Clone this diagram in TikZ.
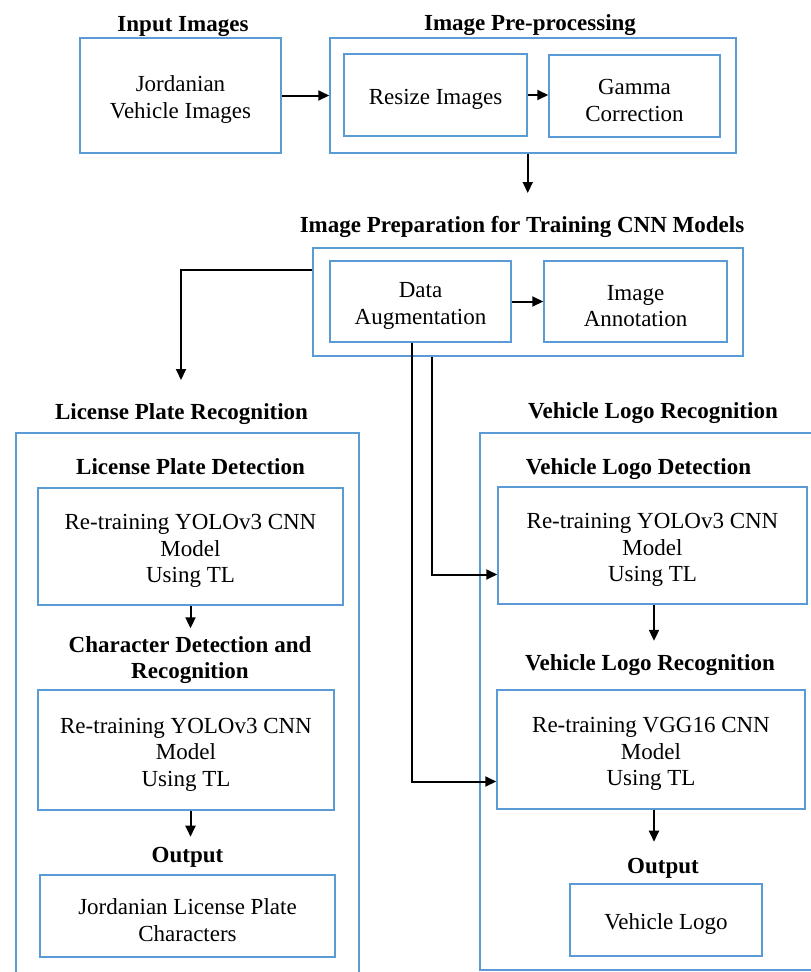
\documentclass[tikz,border=0pt]{standalone}
\usepackage{fontspec}
\setmainfont{Liberation Serif}
\usetikzlibrary{arrows.meta,positioning}
\definecolor{boxblue}{RGB}{91,155,213}
\newcommand{\tstrut}{\rule{0pt}{24pt}}

\begin{document}
\begin{tikzpicture} [
    x=1pt, y=-1pt,
    box/.style={rectangle, draw=boxblue, line width=1.5pt, inner sep=0pt, align=center,
                font=\fontsize{23}{26.5}\selectfont},
    title/.style={inner sep=0pt, align=center, yshift=-5pt,
                font=\fontsize{23}{26.5}\selectfont\bfseries},
    flow/.style={->, line width=2pt, black},
    >={Triangle[length=11pt,width=10pt]}
    ]
    \useasboundingbox (0,0) rectangle (811,972);
    \clip (0,0) rectangle (811,972);
    %Nodes
    \node[box, minimum width=201pt, minimum height=115pt] (input)  at (180.5,95.5) {\tstrut Jordanian\\Vehicle Images};
    \node[box, minimum width=406pt, minimum height=115pt] (pre)    at (533,95.5)   {};
    \node[box, minimum width=183pt, minimum height=82pt]  (resize) at (435.5,95)   {\tstrut Resize Images};
    \node[box, minimum width=171pt, minimum height=82pt]  (gamma)  at (634.5,96)   {\tstrut Gamma\\Correction};
    \node[box, minimum width=430pt, minimum height=108pt] (prep)   at (528,302)    {};
    \node[box, minimum width=181pt, minimum height=81pt]  (aug)    at (420.5,301.5) {\tstrut Data\\Augmentation};
    \node[box, minimum width=183pt, minimum height=81pt]  (annot)  at (635.5,301.5) {\tstrut Image\\Annotation};
    \node[box, minimum width=343pt, minimum height=557pt] (lpr)    at (187.5,711.5) {};
    \node[box, minimum width=305pt, minimum height=117pt] (lpd)    at (190.5,546.5) {\tstrut Re-training YOLOv3 CNN\\Model\\Using TL};
    \node[box, minimum width=296pt, minimum height=120pt] (cdr)    at (186,750)    {\tstrut Re-training YOLOv3 CNN\\Model\\Using TL};
    \node[box, minimum width=295pt, minimum height=82pt]  (lpout)  at (187.5,916)  {\tstrut Jordanian License Plate\\Characters};
    \node[box, minimum width=350pt, minimum height=537pt] (vlr)    at (655,701.5)  {};
    \node[box, minimum width=309pt, minimum height=117pt] (vld)    at (652.5,545.5) {\tstrut Re-training YOLOv3 CNN\\Model\\Using TL};
    \node[box, minimum width=308pt, minimum height=119pt] (vgg)    at (651,749.5)  {\tstrut Re-training VGG16 CNN\\Model\\Using TL};
    \node[box, minimum width=192pt, minimum height=72pt]  (logo)   at (666,920)    {\tstrut Vehicle Logo};
    %Titles
    \node[title] (tin)   [above=5pt of input, xshift=2.5pt] {Input Images};
    \node[title] (tpre)  [above=6pt of pre, xshift=-3pt]    {Image Pre-processing};
    \node[title] (tprep) [above=14pt of prep, xshift=-6pt]  {Image Preparation for Training CNN Models};
    \node[title] (tlpr)  [above=12pt of lpr, xshift=-6pt]   {License Plate Recognition};
    \node[title] (tlpd)  [above=17pt of lpd]                {License Plate Detection};
    \node[title] (tcdr)  [above=10pt of cdr, xshift=4pt]    {Character Detection and\\Recognition};
    \node[title] (tlpo)  [above=12pt of lpout]              {Output};
    \node[title] (tvlr)  [above=13pt of vlr, xshift=-2pt]   {Vehicle Logo Recognition};
    \node[title] (tvld)  [above=11pt of vld, xshift=-14pt]  {Vehicle Logo Detection};
    \node[title] (tvlr2) [above=18pt of vgg, xshift=-1pt]   {Vehicle Logo Recognition};
    \node[title] (tvlo)  [above=10pt of logo, xshift=-3pt]  {Output};
    \path (resize.east) ++(0,98) coordinate (c1);
    \coordinate (c2) at (181,380);
    %Lines
    \draw[flow] (input.east) -- (pre.west);
    \draw[flow] (resize.east) -- (resize.east -| gamma.west);
    \draw[flow] (resize.east |- pre.south) -- (c1);
    \draw[flow] (aug.east) -- (annot.west);
    \draw[flow] ([yshift=32pt]prep.west) -| (c2);
    \draw[flow] ([xshift=-8.5pt]aug.south) |- ([yshift=-32pt]vgg.west);
    \draw[flow] ([xshift=-96pt]prep.south) |- ([yshift=-29pt]vld.west);
    \draw[flow, shorten >=8pt] (lpd.south) -- (lpd.south |- tcdr.north);
    \draw[flow, shorten >=10pt] (lpd.south |- cdr.south) -- (lpd.south |- tlpo.north);
    \draw[flow, shorten >=14pt] ([xshift=1.5pt]vld.south) -- ([xshift=1.5pt]vld.south |- tvlr2.north);
    \draw[flow, shorten >=16pt] ([xshift=3pt]vgg.south) -- ([xshift=3pt]vgg.south |- tvlo.north);
\end{tikzpicture}
\end{document}
